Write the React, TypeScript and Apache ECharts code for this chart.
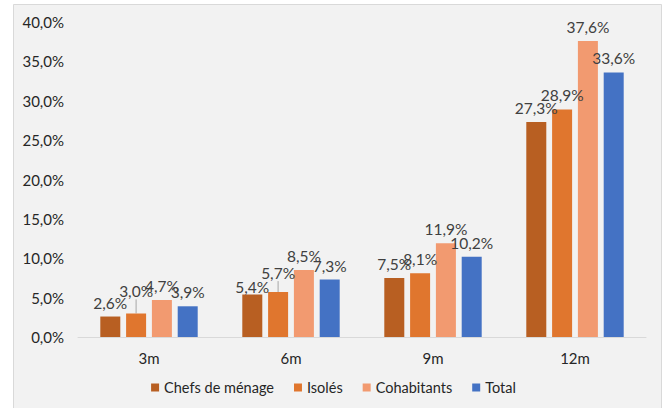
import React, { useEffect, useRef } from "react";
import * as echarts from "echarts";

const categories = ["3m", "6m", "9m", "12m"];
const seriesNames = ["Chefs de ménage", "Isolés", "Cohabitants", "Total"];
const chefsDeMenage = [2.6, 5.4, 7.5, 27.3];
const isoles = [3.0, 5.7, 8.1, 28.9];
const cohabitants = [4.7, 8.5, 11.9, 37.6];
const total = [3.9, 7.3, 10.2, 33.6];
const yTicks = { min: 0, max: 40, interval: 5 };

const colors = ["#B85F22", "#E0762E", "#F29A70", "#4472C4"];
// label vertical shifts (styling only), by series index -> data index
const labelShift: Record<number, Record<number, number>> = {
  0: { 1: 7 },
  1: { 0: -8, 1: -5 },
};

const fmt = (v: number) => v.toFixed(1).replace(".", ",") + "%";
const FONT = "Lato, 'Open Sans', sans-serif";

export default function App() {
  const ref = useRef<HTMLDivElement>(null);
  useEffect(() => {
    if (!ref.current) return;
    const chart = echarts.init(ref.current, undefined, { renderer: "svg" });
    const values = [chefsDeMenage, isoles, cohabitants, total];
    chart.setOption({
      animation: false,
      backgroundColor: "#ffffff",
      textStyle: { fontFamily: FONT },
      graphic: [
        {
          type: "rect",
          z: -10,
          silent: true,
          shape: { x: 13.5, y: 4.5, width: 648, height: 410 },
          style: { fill: "#f2f2f2", stroke: "#d9d9d9", lineWidth: 1 },
        },
      ],
      grid: { left: 78, right: 21, top: 22, bottom: 71, containLabel: false },
      legend: {
        bottom: 8,
        left: "center",
        itemWidth: 8,
        itemHeight: 8,
        itemGap: 20,
        icon: "rect",
        textStyle: { fontSize: 14.5, color: "#262626", fontFamily: FONT },
        data: seriesNames,
      },
      xAxis: {
        type: "category",
        data: categories,
        axisLine: { lineStyle: { color: "#d9d9d9", width: 1 } },
        axisTick: { show: false },
        axisLabel: { fontSize: 15, color: "#262626", margin: 13, fontFamily: FONT },
      },
      yAxis: {
        type: "value",
        min: yTicks.min,
        max: yTicks.max,
        interval: yTicks.interval,
        splitLine: { show: false },
        axisLine: { show: false },
        axisTick: { show: false },
        axisLabel: {
          fontSize: 15,
          color: "#262626",
          margin: 14,
          fontFamily: FONT,
          formatter: (v: number) => fmt(v),
        },
      },
      series: seriesNames.map((name, si) => ({
        name,
        type: "bar",
        barWidth: 20,
        barGap: "29%",
        itemStyle: { color: colors[si] },
        data: values[si].map((v, di) =>
          labelShift[si]?.[di] && labelShift[si][di] < 0
            ? { value: v, labelLine: { show: true, lineStyle: { color: "#a6a6a6", width: 1 } } }
            : { value: v }
        ),
        label: {
          show: true,
          position: "top",
          distance: 6,
          fontSize: 15.5,
          color: "#404040",
          fontFamily: FONT,
          formatter: (p: any) => fmt(p.value),
        },
        labelLine: { show: false },
        labelLayout: (p: any) => {
          const dy = labelShift[si]?.[p.dataIndex];
          return dy ? { dy } : {};
        },
      })),
    });
    return () => chart.dispose();
  }, []);
  return (
    <div
      ref={ref}
      style={{ position: "fixed", left: 0, top: 0, width: 667, height: 408 }}
    />
  );
}
